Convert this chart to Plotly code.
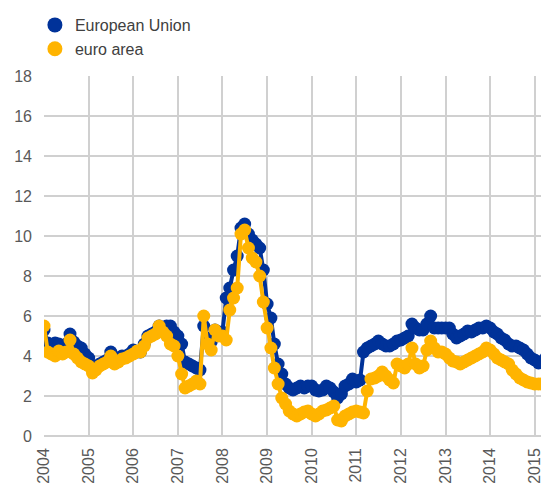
import pandas as pd
import plotly.graph_objects as go

# Monthly data, Jan 2004 - Apr 2015
start_month = "2004-01-01"
n_months = 136

european_union = [
    # 2004
    5.3, 4.65, 4.5, 4.65, 4.6, 4.5, 4.6, 5.1, 4.7, 4.5, 4.4, 4.1,
    # 2005
    3.9, 3.5, 3.4, 3.6, 3.7, 3.8, 4.2, 3.8, 3.9, 4.0, 4.0, 4.1,
    # 2006
    4.3, 4.2, 4.2, 4.6, 5.0, 5.1, 5.2, 5.5, 5.4, 5.5, 5.5, 5.2,
    # 2007
    5.0, 4.6, 3.7, 3.6, 3.5, 3.4, 3.3, 5.5, 4.9, 4.7, 5.3, 5.2,
    # 2008
    5.2, 6.9, 7.4, 8.3, 9.0, 10.4, 10.6, 10.1, 9.8, 9.6, 9.4, 8.3,
    # 2009
    6.6, 5.9, 4.6, 3.6, 3.1, 2.6, 2.4, 2.3, 2.4, 2.5, 2.4, 2.5,
    # 2010
    2.5, 2.3, 2.25, 2.3, 2.5, 2.4, 2.2, 1.9, 2.1, 2.5, 2.6, 2.85,
    # 2011
    2.7, 2.8, 4.2, 4.4, 4.5, 4.6, 4.75, 4.6, 4.5, 4.5, 4.6, 4.75,
    # 2012
    4.8, 4.9, 5.0, 5.6, 5.4, 5.3, 5.3, 5.6, 6.0, 5.4, 5.4, 5.4,
    # 2013
    5.4, 5.4, 5.1, 4.9, 5.0, 5.1, 5.25, 5.2, 5.3, 5.4, 5.4, 5.5,
    # 2014
    5.4, 5.2, 5.1, 4.9, 4.8, 4.6, 4.5, 4.5, 4.4, 4.3, 4.1, 3.9,
    # 2015
    3.8, 3.65, 3.7, 3.9,
]

euro_area = [
    # 2004
    5.5, 4.2, 4.1, 4.0, 4.25, 4.1, 4.2, 4.8, 4.1, 3.9, 3.7, 3.6,
    # 2005
    3.5, 3.15, 3.3, 3.5, 3.6, 3.7, 4.0, 3.6, 3.7, 3.85, 3.9, 4.0,
    # 2006
    4.1, 4.25, 4.2, 4.5, 4.9, 5.0, 5.1, 5.5, 5.2, 5.0, 4.6, 4.5,
    # 2007
    4.0, 3.1, 2.4, 2.5, 2.6, 2.75, 2.6, 6.0, 4.6, 4.3, 5.3, 5.0,
    # 2008
    5.0, 4.8, 6.3, 6.9, 7.4, 10.1, 10.3, 9.4, 8.9, 8.7, 8.0, 6.7,
    # 2009
    5.4, 4.4, 3.4, 2.6, 1.9, 1.6, 1.25, 1.1, 1.0, 1.1, 1.2, 1.25,
    # 2010
    1.1, 1.0, 1.1, 1.25, 1.3, 1.4, 1.5, 0.8, 0.75, 1.0, 1.1, 1.2,
    # 2011
    1.25, 1.2, 1.15, 2.25, 2.85, 2.9, 3.0, 3.2, 3.0, 2.8, 2.65, 3.6,
    # 2012
    3.5, 3.4, 3.6, 4.4, 3.6, 3.4, 3.5, 4.3, 4.75, 4.4, 4.2, 4.2,
    # 2013
    4.1, 3.9, 3.75, 3.7, 3.6, 3.7, 3.8, 3.9, 4.0, 4.1, 4.2, 4.4,
    # 2014
    4.3, 4.1, 3.9, 3.8, 3.7, 3.6, 3.3, 3.1, 2.9, 2.8, 2.7, 2.65,
    # 2015
    2.6, 2.6, 2.6, 2.6,
]

series_names = ["European Union", "euro area"]
series_colors = ["#003299", "#FFB400"]
year_ticks = list(range(2004, 2016))
y_ticks = list(range(0, 19, 2))

dates = pd.date_range(start_month, periods=n_months, freq="MS")

fig = go.Figure()
for name, vals, col in zip(series_names, [european_union, euro_area], series_colors):
    fig.add_trace(go.Scatter(
        x=dates, y=vals, mode="lines+markers", name=name,
        line=dict(color=col, width=4),
        marker=dict(color=col, size=13),
        showlegend=False,
    ))
# legend entries (markers only)
for name, col in zip(series_names, series_colors):
    fig.add_trace(go.Scatter(
        x=[None], y=[None], mode="markers", name=name,
        legendgroup=name,
        marker=dict(color=col, size=15),
    ))

grid = "#d0d0d0"
fig.update_layout(
    width=541, height=476,
    margin=dict(l=36, r=0, t=68, b=48, autoexpand=False),
    paper_bgcolor="white", plot_bgcolor="white",
    font=dict(family="Liberation Sans, Arial, sans-serif", size=16, color="#595959"),
    legend=dict(
        x=-0.018, y=1.022, xanchor="left", yanchor="top",
        xref="paper", yref="container",
        font=dict(size=16, color="#404040"),
        bgcolor="rgba(0,0,0,0)",
        traceorder="grouped", tracegroupgap=0,
    ),
    xaxis=dict(
        range=["2004-01-01", "2015-04-28"],
        tickvals=[f"{y}-01-01" for y in year_ticks],
        ticktext=[str(y) for y in year_ticks],
        tickangle=-90,
        showgrid=True, gridcolor=grid, gridwidth=2,
        showline=False, zeroline=False, ticks="",
        ticklabelstandoff=8,
        automargin=False,
        tickfont=dict(size=16, color="#595959"),
    ),
    yaxis=dict(
        range=[0, 18],
        tickvals=y_ticks,
        showgrid=True, gridcolor=grid, gridwidth=2,
        zeroline=True, zerolinecolor=grid, zerolinewidth=2,
        showline=False, ticks="",
        ticklabelstandoff=11,
        automargin=False,
        tickfont=dict(size=16, color="#595959"),
    ),
)

fig.write_html("out.html")
